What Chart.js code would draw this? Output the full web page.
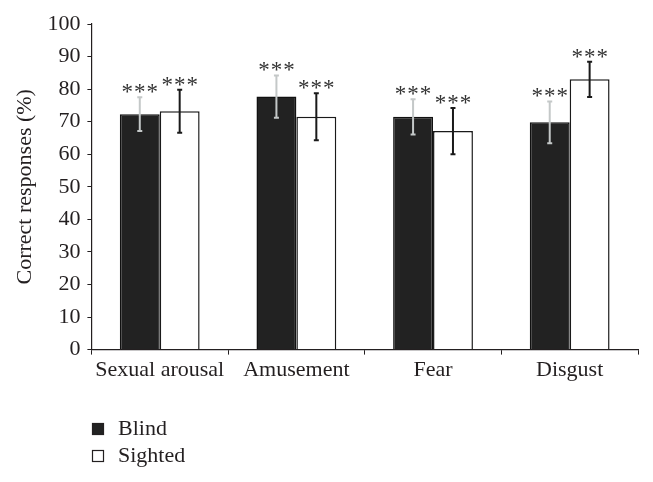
<!DOCTYPE html>
<html>
<head>
<meta charset="utf-8">
<script src="https://cdn.jsdelivr.net/npm/chart.js@4/dist/chart.umd.min.js"></script>
<style>
  html, body { margin: 0; padding: 0; background: #fff; }
  #wrap { width: 653px; height: 482px; }
</style>
</head>
<body>
<div id="wrap"><canvas id="emotionChart" width="653" height="482"></canvas></div>
<script>
  // Values
  const categories = ['Sexual arousal', 'Amusement', 'Fear', 'Disgust'];
  const seriesNames = ['Blind', 'Sighted'];
  const blindValues = [72.3, 77.7, 71.5, 69.8];
  const sightedValues = [73.2, 71.5, 67.1, 83.0];
  const blindErrors = [5.2, 6.5, 5.4, 6.4];
  const sightedErrors = [6.6, 7.2, 7.1, 5.4];
  const blindMarks = ['***', '***', '***', '***'];
  const sightedMarks = ['***', '***', '***', '***'];
  const yTicks = [0, 10, 20, 30, 40, 50, 60, 70, 80, 90, 100];

  const serif = "'Liberation Serif', 'DejaVu Serif', serif";
  const ink = '#231f20';

  // error bars + significance stars, drawn through the y scale
  const errorBarPlugin = {
    id: 'errorBars',
    afterDatasetsDraw(chart) {
      const ctx = chart.ctx;
      const y = chart.scales.y;
      chart.data.datasets.forEach((ds, di) => {
        const meta = chart.getDatasetMeta(di);
        meta.data.forEach((bar, i) => {
          const v = ds.data[i];
          const e = ds.errors[i];
          const top = y.getPixelForValue(v + e);
          const bottom = y.getPixelForValue(v - e);
          const x = bar.x;
          ctx.save();
          ctx.strokeStyle = ds.errorColor;
          ctx.lineWidth = 2;
          ctx.beginPath();
          ctx.moveTo(x, top); ctx.lineTo(x, bottom);
          ctx.moveTo(x - 2.5, top); ctx.lineTo(x + 2.5, top);
          ctx.moveTo(x - 2.5, bottom); ctx.lineTo(x + 2.5, bottom);
          ctx.stroke();

          // stars
          ctx.fillStyle = '#333';
          ctx.font = "23px " + serif;
          ctx.textAlign = 'center';
          ctx.textBaseline = 'alphabetic';
          const n = ds.marks[i].length;
          for (let k = 0; k < n; k++) {
            ctx.fillText('*', x + (k - (n - 1) / 2) * 12.5, top + 2);
          }
          ctx.restore();
        });
      });
    }
  };

  // legend stacked vertically in the lower left
  const stackedLegend = {
    id: 'stackedLegend',
    afterDraw(chart) {
      const ctx = chart.ctx;
      ctx.save();
      ctx.font = "22px " + serif;
      ctx.textBaseline = 'alphabetic';
      ctx.textAlign = 'left';
      chart.data.datasets.forEach((ds, i) => {
        const top = 423 + i * 27;
        ctx.fillStyle = ds.backgroundColor;
        ctx.strokeStyle = ink;
        ctx.lineWidth = 1.2;
        ctx.fillRect(92.5, top + 0.5, 11, 11);
        ctx.strokeRect(92.5, top + 0.5, 11, 11);
        ctx.fillStyle = ink;
        ctx.fillText(ds.label, 118, top + 12);
      });
      ctx.restore();
    }
  };

  const ctx = document.getElementById('emotionChart').getContext('2d');
  new Chart(ctx, {
    type: 'bar',
    data: {
      labels: categories,
      datasets: [
        {
          label: seriesNames[0],
          data: blindValues,
          errors: blindErrors,
          marks: blindMarks,
          errorColor: '#c4c8c8',
          backgroundColor: '#222222',
          borderColor: '#111111',
          borderWidth: 1.5,
          categoryPercentage: 0.584,
          barPercentage: 1.0
        },
        {
          label: seriesNames[1],
          data: sightedValues,
          errors: sightedErrors,
          marks: sightedMarks,
          errorColor: '#1a1a1a',
          backgroundColor: '#ffffff',
          borderColor: '#1a1a1a',
          borderWidth: 1.5,
          categoryPercentage: 0.584,
          barPercentage: 1.0
        }
      ]
    },
    options: {
      responsive: false,
      animation: false,
      layout: { padding: { top: 24, right: 15, bottom: 97, left: 12 } },
      plugins: {
        legend: { display: false },
        tooltip: { enabled: false }
      },
      scales: {
        x: {
          grid: {
            display: true,
            offset: true,
            drawOnChartArea: false,
            drawTicks: true,
            tickLength: 5,
            color: ink
          },
          border: { display: true, color: ink, width: 1.2 },
          ticks: {
            color: ink,
            font: { family: serif, size: 22 },
            padding: 2,
            maxRotation: 0,
            autoSkip: false
          }
        },
        y: {
          min: 0,
          max: 100,
          afterBuildTicks(axis) {
            axis.ticks = yTicks.map(v => ({ value: v }));
          },
          grid: {
            display: true,
            drawOnChartArea: false,
            drawTicks: true,
            tickLength: 4,
            color: ink
          },
          border: { display: true, color: ink, width: 1.2 },
          ticks: {
            color: ink,
            font: { family: serif, size: 22 },
            padding: 7
          },
          title: {
            display: true,
            text: 'Correct responses (%)',
            color: ink,
            font: { family: serif, size: 22 },
            padding: { top: 0, bottom: 2 }
          }
        }
      }
    },
    plugins: [errorBarPlugin, stackedLegend]
  });
</script>
</body>
</html>
